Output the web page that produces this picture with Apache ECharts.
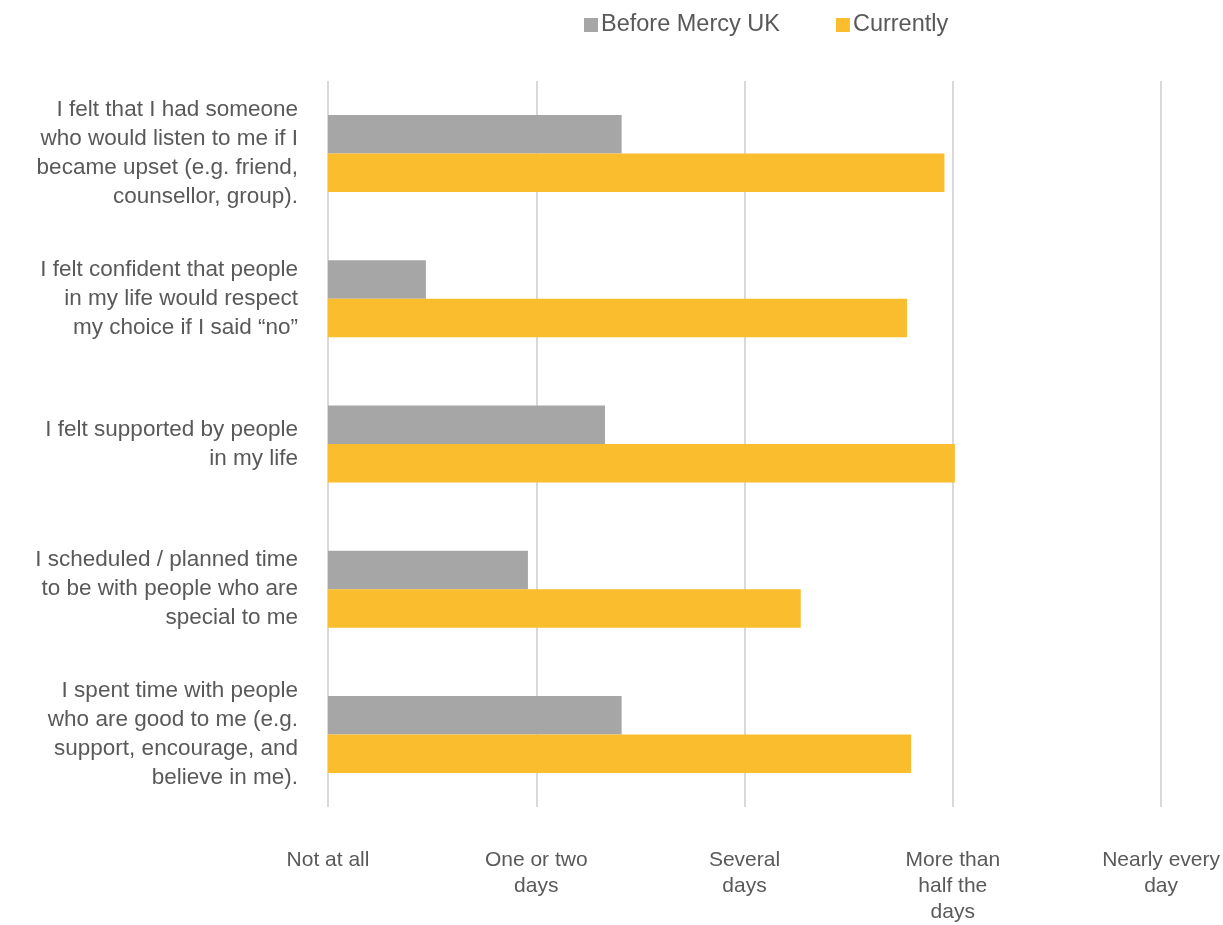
<!DOCTYPE html>
<html>
<head>
<meta charset="utf-8">
<script src="https://cdn.jsdelivr.net/npm/echarts@6/dist/echarts.min.js"></script>
<style>
  html, body { margin: 0; padding: 0; background: #ffffff; }
  #chart { width: 1223px; height: 925px; }
</style>
</head>
<body>
<div id="chart"></div>
<script>
// Survey statements (top to bottom)
const statements = [
  "I felt that I had someone\nwho would listen to me if I\nbecame upset (e.g. friend,\ncounsellor, group).",
  "I felt confident that people\nin my life would respect\nmy choice if I said “no”",
  "I felt supported by people\nin my life",
  "I scheduled / planned time\nto be with people who are\nspecial to me",
  "I spent time with people\nwho are good to me (e.g.\nsupport, encourage, and\nbelieve in me)."
];

// Frequency scale labels, 0..4
const frequencyLabels = [
  "Not at all",
  "One or two\ndays",
  "Several\ndays",
  "More than\nhalf the\ndays",
  "Nearly every\nday"
];

// Average frequency scores
const beforeMercyUK = [1.41, 0.47, 1.33, 0.96, 1.41];
const currently = [2.96, 2.78, 3.01, 2.27, 2.80];

const seriesNames = ["Before Mercy UK", "Currently"];

const FONT = "'Liberation Sans', Arial, Helvetica, sans-serif";
const TEXT = "#595959";

const chart = echarts.init(document.getElementById("chart"), null, { renderer: "canvas" });

chart.setOption({
  animation: false,
  backgroundColor: "#ffffff",
  textStyle: { fontFamily: FONT },
  legend: {
    data: seriesNames,
    top: 8,
    left: 579,
    itemWidth: 14,
    itemHeight: 14,
    itemGap: 56,
    icon: "rect",
    textStyle: { color: TEXT, fontSize: 23.5, fontFamily: FONT, padding: [0, 0, 0, -2] }
  },
  grid: {
    left: 328,
    right: 58,
    top: 81,
    bottom: 114,
    containLabel: false
  },
  xAxis: {
    type: "value",
    min: 0,
    max: 4,
    interval: 1,
    axisLine: { show: false },
    axisTick: { show: false },
    splitLine: { show: true, lineStyle: { color: "#d9d9d9", width: 2 } },
    axisLabel: {
      margin: 40,
      color: TEXT,
      fontSize: 21,
      lineHeight: 26,
      fontFamily: FONT,
      align: "center",
      verticalAlign: "top",
      formatter: function (v) { return frequencyLabels[Math.round(v)] || ""; }
    }
  },
  yAxis: {
    type: "category",
    inverse: true,
    data: statements,
    axisLine: { show: false },
    axisTick: { show: false },
    splitLine: { show: false },
    axisLabel: {
      margin: 30,
      color: TEXT,
      fontSize: 22.5,
      lineHeight: 29,
      fontFamily: FONT,
      align: "right"
    }
  },
  series: [
    {
      name: seriesNames[0],
      type: "bar",
      data: beforeMercyUK,
      itemStyle: { color: "#a6a6a6" },
      barGap: "0%",
      barCategoryGap: "47%"
    },
    {
      name: seriesNames[1],
      type: "bar",
      data: currently,
      itemStyle: { color: "#f9bd2e" },
      barGap: "0%",
      barCategoryGap: "47%"
    }
  ]
});
</script>
</body>
</html>
